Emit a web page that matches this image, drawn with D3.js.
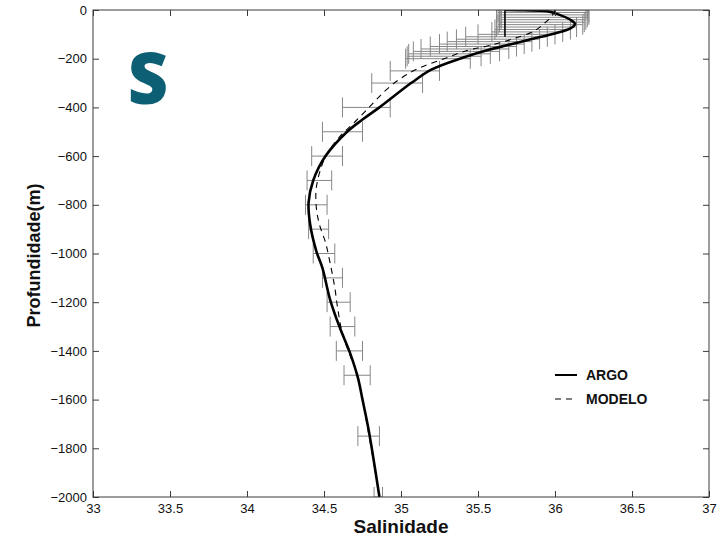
<!DOCTYPE html>
<html>
<head>
<meta charset="utf-8">
<script src="https://cdn.jsdelivr.net/npm/d3@7"></script>
<style>
  html, body { margin: 0; padding: 0; background: #fff; }
  svg { display: block; }
</style>
</head>
<body>
<script>
// ---- data ----
const xTicks = [33, 33.5, 34, 34.5, 35, 35.5, 36, 36.5, 37];
const xTickLabels = ["33", "33.5", "34", "34.5", "35", "35.5", "36", "36.5", "37"];
const yTicks = [0, -200, -400, -600, -800, -1000, -1200, -1400, -1600, -1800, -2000];
const yTickLabels = ["0", "\u2212200", "\u2212400", "\u2212600", "\u2212800", "\u22121000", "\u22121200", "\u22121400", "\u22121600", "\u22121800", "\u22122000"];

const argoSal   = [35.675, 35.675, 35.80, 35.95, 36.03, 36.10, 36.13, 36.10, 36.01, 35.83, 35.70, 35.57, 35.40, 35.20, 35.07, 34.86, 34.75, 34.65, 34.51, 34.43, 34.40, 34.41, 34.45, 34.49, 34.54, 34.60, 34.67, 34.72, 34.75, 34.79, 34.86];
const argoDepth = [-110, 0, -1, -5, -20, -40, -57, -75, -94, -122, -143, -163, -196, -244, -298, -400, -450, -500, -600, -700, -790, -880, -990, -1060, -1190, -1300, -1410, -1510, -1600, -1725, -2000];

const modelSal   = [36.00, 35.98, 35.93, 35.86, 35.72, 35.56, 35.42, 35.28, 35.12, 35.00, 34.90, 34.80, 34.70, 34.60, 34.52, 34.48, 34.45, 34.45, 34.47, 34.51, 34.54, 34.57, 34.59, 34.62, 34.67, 34.72, 34.79, 34.86];
const modelDepth = [0, -25, -55, -88, -120, -148, -168, -200, -238, -280, -330, -395, -460, -522, -590, -650, -730, -810, -880, -955, -1040, -1140, -1230, -1330, -1420, -1510, -1740, -2000];

const errDepth = [0, -10, -20, -30, -40, -50, -60, -70, -80, -90, -100, -110, -120, -130, -140, -150, -160, -170, -180, -190, -200, -250, -300, -400, -500, -600, -700, -800, -900, -1000, -1100, -1200, -1300, -1400, -1500, -1750, -2000];
const errLow  = [35.62, 35.63, 35.64, 35.65, 35.65, 35.64, 35.63, 35.62, 35.61, 35.59, 35.50, 35.42, 35.36, 35.30, 35.25, 35.19, 35.13, 35.08, 35.05, 35.04, 35.03, 34.93, 34.81, 34.62, 34.49, 34.42, 34.39, 34.38, 34.40, 34.43, 34.49, 34.52, 34.54, 34.58, 34.63, 34.72, 34.825];
const errHigh = [36.21, 36.22, 36.22, 36.21, 36.20, 36.19, 36.18, 36.14, 36.10, 36.05, 36.00, 35.95, 35.90, 35.85, 35.80, 35.75, 35.70, 35.64, 35.58, 35.52, 35.45, 35.25, 35.14, 34.93, 34.75, 34.62, 34.55, 34.52, 34.53, 34.57, 34.62, 34.67, 34.70, 34.75, 34.80, 34.86, 34.88];

const legendLabels = ["ARGO", "MODELO"];

// ---- layout ----
const W = 719, H = 537;
const L = 93, R = 709, T = 10, B = 497;
const axisColor = "#3a3a3a";
const errColor = "#878787";
const font = "'Liberation Sans', Arial, Helvetica, sans-serif";

const svg = d3.select("body").append("svg").attr("width", W).attr("height", H);

const x = d3.scaleLinear().domain([33, 37]).range([L, R]);
const y = d3.scaleLinear().domain([0, -2000]).range([T, B]);

svg.append("defs").append("clipPath").attr("id", "clip")
  .append("rect").attr("x", L).attr("y", T).attr("width", R - L).attr("height", B - T);

const plot = svg.append("g").attr("clip-path", "url(#clip)");

// error bars
const errData = errDepth.map((d, i) => ({ d, lo: errLow[i], hi: errHigh[i] }));
const capH = 10;
const eb = plot.append("g").attr("stroke", errColor).attr("stroke-width", 1).attr("fill", "none");
eb.selectAll("line.h").data(errData).join("line").attr("class", "h")
  .attr("x1", e => x(e.lo)).attr("x2", e => x(e.hi))
  .attr("y1", e => y(e.d)).attr("y2", e => y(e.d));
eb.selectAll("line.l").data(errData).join("line").attr("class", "l")
  .attr("x1", e => x(e.lo)).attr("x2", e => x(e.lo))
  .attr("y1", e => y(e.d) - capH).attr("y2", e => y(e.d) + capH);
eb.selectAll("line.r").data(errData).join("line").attr("class", "r")
  .attr("x1", e => x(e.hi)).attr("x2", e => x(e.hi))
  .attr("y1", e => y(e.d) - capH).attr("y2", e => y(e.d) + capH);

// model (dashed)
const modelPts = modelSal.map((s, i) => [s, modelDepth[i]]);
const curveLine = d3.line().x(p => x(p[0])).y(p => y(p[1])).curve(d3.curveCatmullRom.alpha(0.5));
const straightLine = d3.line().x(p => x(p[0])).y(p => y(p[1]));
plot.append("path").datum(modelPts)
  .attr("d", curveLine).attr("fill", "none").attr("stroke", "#000")
  .attr("stroke-width", 1.1).attr("stroke-dasharray", "6,5");

// argo (solid): straight first segment, smooth remainder
const argoPts = argoSal.map((s, i) => [s, argoDepth[i]]);
plot.append("path").datum(argoPts.slice(0, 2))
  .attr("d", straightLine).attr("fill", "none").attr("stroke", "#000")
  .attr("stroke-width", 1.6);
plot.append("path").datum(argoPts.slice(1))
  .attr("d", curveLine).attr("fill", "none").attr("stroke", "#000")
  .attr("stroke-width", 2.6).attr("stroke-linejoin", "round");

// axes box
const ax = svg.append("g");
ax.append("rect").attr("x", L).attr("y", T).attr("width", R - L).attr("height", B - T)
  .attr("fill", "none").attr("stroke", axisColor).attr("stroke-width", 1);

const tickLen = 6;
const xAxisB = d3.axisBottom(x).tickValues(xTicks).tickSize(-tickLen).tickPadding(10)
  .tickFormat((d, i) => xTickLabels[i]);
const gxb = ax.append("g").attr("transform", `translate(0,${B})`).call(xAxisB);
const xAxisT = d3.axisTop(x).tickValues(xTicks).tickSize(-tickLen).tickFormat("");
const gxt = ax.append("g").attr("transform", `translate(0,${T})`).call(xAxisT);
const yAxisL = d3.axisLeft(y).tickValues(yTicks).tickSize(-tickLen).tickPadding(6)
  .tickFormat((d, i) => yTickLabels[i]);
const gyl = ax.append("g").attr("transform", `translate(${L},0)`).call(yAxisL);
const yAxisR = d3.axisRight(y).tickValues(yTicks).tickSize(-tickLen).tickFormat("");
const gyr = ax.append("g").attr("transform", `translate(${R},0)`).call(yAxisR);

[gxb, gxt, gyl, gyr].forEach(g => {
  g.select(".domain").remove();
  g.selectAll(".tick line").attr("stroke", axisColor);
  g.selectAll(".tick text").attr("fill", "#111").style("font-family", font).style("font-size", "13px");
});
gxb.selectAll(".tick text").attr("dy", "0.71em").attr("y", 7);

// axis titles
svg.append("text").attr("x", (L + R) / 2).attr("y", 533)
  .attr("text-anchor", "middle").style("font-family", font).style("font-size", "19px")
  .style("font-weight", "bold").attr("fill", "#111").text("Salinidade");
svg.append("text").attr("transform", `translate(40,${(T + B) / 2 + 2}) rotate(-90)`)
  .attr("text-anchor", "middle").style("font-family", font).style("font-size", "18px")
  .style("font-weight", "bold").attr("fill", "#111").text("Profundidade(m)");

// legend
const lg = svg.append("g");
const legY = [375, 399];
lg.append("line").attr("x1", 555).attr("x2", 577).attr("y1", legY[0]).attr("y2", legY[0])
  .attr("stroke", "#000").attr("stroke-width", 2);
lg.append("line").attr("x1", 555).attr("x2", 577).attr("y1", legY[1]).attr("y2", legY[1])
  .attr("stroke", "#000").attr("stroke-width", 1.1).attr("stroke-dasharray", "6,5");
lg.selectAll("text").data(legendLabels).join("text")
  .attr("x", 586).attr("y", (d, i) => legY[i] + 5)
  .style("font-family", font).style("font-size", "14px").style("font-weight", "bold")
  .attr("fill", "#111").text(d => d);

// big S mark
svg.append("text").attr("x", 148).attr("y", 104).attr("text-anchor", "middle")
  .style("font-family", "'Open Sans', sans-serif").style("font-size", "70px").style("font-weight", "800")
  .attr("fill", "#0d5f74").text("S");
</script>
</body>
</html>
